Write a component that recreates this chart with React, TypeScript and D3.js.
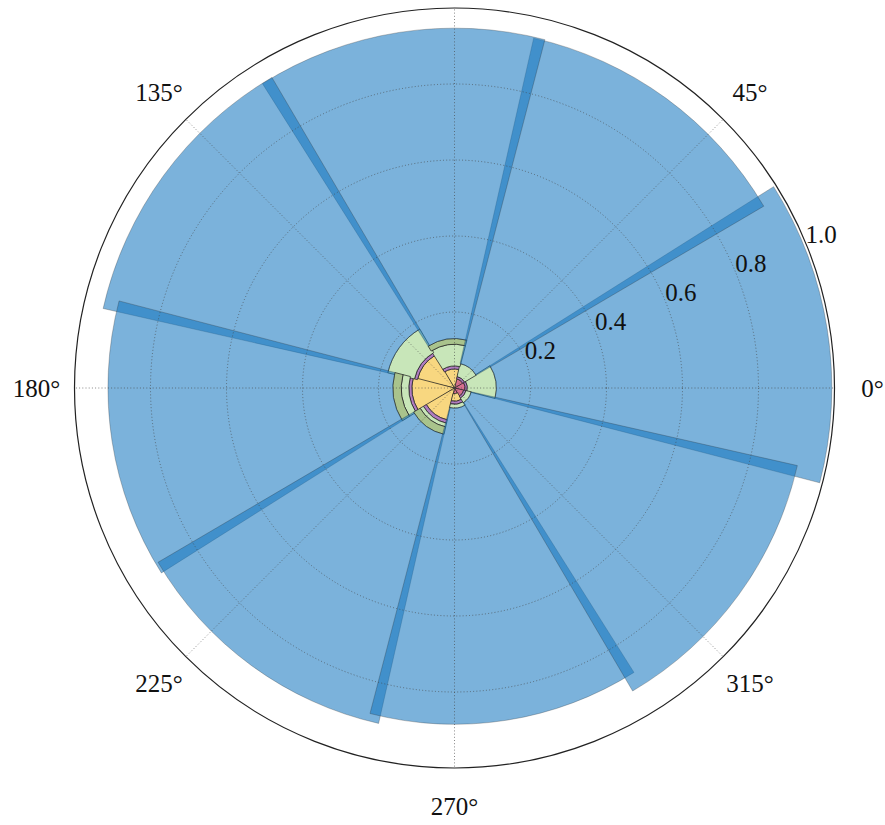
import React from "react";
import * as d3 from "d3";

// Sector centres (degrees, counter-clockwise from east) and shared bar width
const sectorAngles = [8.85, 53.85, 98.85, 143.85, 188.85, 233.85, 278.85, 323.85];
const barWidthDeg = 46.8;

// Stacked series, innermost first
const redValues = [0.028, 0.025, 0.0, 0.0, 0.0, 0.0, 0.015, 0.025];
const yellowValues = [0.0, 0.0, 0.05, 0.1, 0.112, 0.086, 0.02, 0.0];
const purpleValues = [0.006, 0.006, 0.008, 0.008, 0.008, 0.009, 0.008, 0.006];
const greenValues = [0.076, 0.035, 0.057, 0.072, 0.02, 0.01, 0.01, 0.014];
const oliveValues = [0.0, 0.0, 0.015, 0.0, 0.022, 0.02, 0.0, 0.0];
const blueValues = [0.883, 0.878, 0.817, 0.768, 0.75, 0.78, 0.832, 0.88];

const seriesKeys = ["red", "yellow", "purple", "green", "olive", "blue"];
const seriesColors: Record<string, string> = {
  red: "#d7708f",
  yellow: "#f8d780",
  purple: "#b07cc0",
  green: "#c8e6b9",
  olive: "#a9c38c",
  blue: "#1476be",
};
const seriesOpacity: Record<string, number> = {
  red: 1,
  yellow: 1,
  purple: 1,
  green: 1,
  olive: 1,
  blue: 0.56,
};

// Radial ticks and angular ticks
const radialTicks = [0.2, 0.4, 0.6, 0.8, 1.0];
const radialTickLabels = ["0.2", "0.4", "0.6", "0.8", "1.0"];
const gridAngles = [0, 45, 90, 135, 180, 225, 270, 315];
const angleLabelAngles = [0, 45, 135, 180, 225, 270, 315];
const angleLabels = ["0°", "45°", "135°", "180°", "225°", "270°", "315°"];

const WIDTH = 885;
const HEIGHT = 825;
const CX = 454.5;
const CY = 388;
const R = 380;
const FONT = "Liberation Serif";

// math angle (deg, CCW from east) -> d3 arc angle (rad, CW from north)
const toD3 = (deg: number) => ((90 - deg) * Math.PI) / 180;

export default function App() {
  const r = d3.scaleLinear().domain([0, 1]).range([0, R]);

  const rows = sectorAngles.map((a, i) => ({
    angle: a,
    red: redValues[i],
    yellow: yellowValues[i],
    purple: purpleValues[i],
    green: greenValues[i],
    olive: oliveValues[i],
    blue: blueValues[i],
  }));
  const stacked = d3.stack<any>().keys(seriesKeys)(rows);

  const arcGen = d3.arc<any>();

  const bars: JSX.Element[] = [];
  stacked.forEach((layer) => {
    const key = layer.key;
    layer.forEach((seg, i) => {
      const [y0, y1] = seg;
      if (y1 - y0 <= 0) return;
      const a = sectorAngles[i];
      const d = arcGen({
        innerRadius: r(y0),
        outerRadius: r(y1),
        startAngle: toD3(a + barWidthDeg / 2),
        endAngle: toD3(a - barWidthDeg / 2),
      }) as string;
      bars.push(
        <path
          key={`${key}-${i}`}
          d={d}
          fill={seriesColors[key]}
          fillOpacity={seriesOpacity[key]}
          stroke={key === "blue" ? "rgba(40,40,40,0.35)" : "rgba(30,30,30,0.8)"}
          strokeWidth={key === "blue" ? 0.8 : 0.9}
        />
      );
    });
  });

  const labelR = 418;
  const rLabelAngle = (22.5 * Math.PI) / 180;

  return (
    <svg
      width={WIDTH}
      height={HEIGHT}
      style={{ position: "absolute", left: 0, top: 0, background: "#fff" }}
    >
      <g transform={`translate(${CX},${CY})`}>
        {bars}
        {/* circular grid */}
        {radialTicks.slice(0, -1).map((t) => (
          <circle
            key={`c${t}`}
            r={r(t)}
            fill="none"
            stroke="#444"
            strokeWidth={0.8}
            strokeDasharray="1,2.2"
            strokeOpacity={0.8}
          />
        ))}
        {/* angular grid */}
        {gridAngles.map((g) => {
          const rad = (g * Math.PI) / 180;
          return (
            <line
              key={`g${g}`}
              x1={0}
              y1={0}
              x2={r(1) * Math.cos(rad)}
              y2={-r(1) * Math.sin(rad)}
              stroke="#444"
              strokeWidth={0.8}
              strokeDasharray="1,2.2"
              strokeOpacity={0.8}
            />
          );
        })}
        {/* outer frame */}
        <circle r={r(1)} fill="none" stroke="#222" strokeWidth={1.2} />
        {/* radial tick labels */}
        {radialTicks.map((t, i) => (
          <text
            key={`rl${t}`}
            x={r(t) * Math.cos(rLabelAngle)}
            y={-r(t) * Math.sin(rLabelAngle)}
            style={{ fontFamily: FONT }}
            fontSize={25}
            fill="#111"
            textAnchor="start"
          >
            {radialTickLabels[i]}
          </text>
        ))}
        {/* angular tick labels */}
        {angleLabelAngles.map((g, i) => {
          const rad = (g * Math.PI) / 180;
          return (
            <text
              key={`al${g}`}
              x={labelR * Math.cos(rad)}
              y={-labelR * Math.sin(rad)}
              style={{ fontFamily: FONT }}
              fontSize={25}
              fill="#111"
              textAnchor="middle"
              dominantBaseline="central"
            >
              {angleLabels[i]}
            </text>
          );
        })}
      </g>
    </svg>
  );
}
